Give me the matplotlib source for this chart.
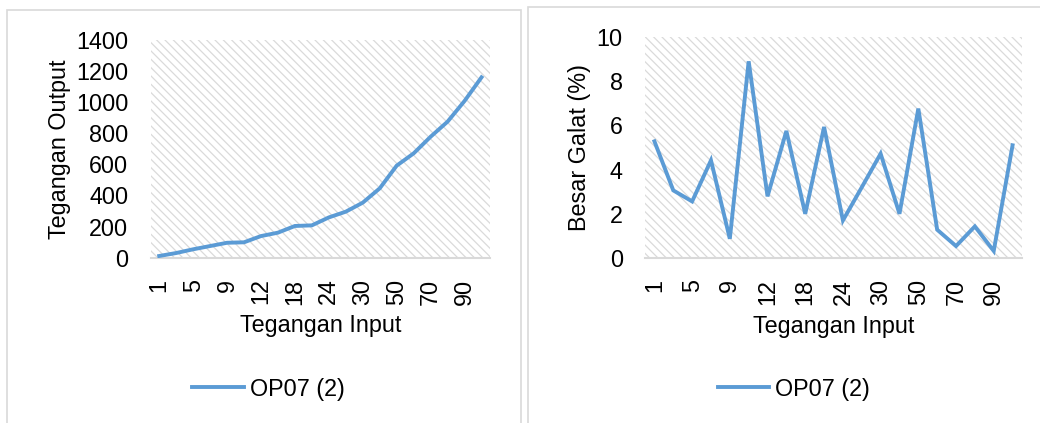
import numpy as np
import matplotlib
matplotlib.use('Agg')
import matplotlib.pyplot as plt
from matplotlib.patches import Rectangle

plt.rcParams['font.family'] = ['Liberation Sans', 'DejaVu Sans']
plt.rcParams['hatch.color'] = '#dadada'
plt.rcParams['hatch.linewidth'] = 0.9

# input voltages (categories)
teganganInput = ['1', '3', '5', '7', '9', '10', '12', '15', '18', '21',
                 '24', '27', '30', '40', '50', '60', '70', '80', '90', '100']
# output voltage, OP07 (2)
teganganOutput = [11, 30, 54, 75, 96, 99, 139, 161, 204, 208,
                  259, 296, 354, 446, 592, 671, 778, 875, 1008, 1160]
# error in percent, OP07 (2)
besarGalat = [5.28, 3.06, 2.56, 4.42, 0.87, 8.9, 2.79, 5.75, 2.0, 5.93,
              1.70, 3.2, 4.72, 2.0, 6.76, 1.28, 0.54, 1.43, 0.32, 5.1]
seriesName = 'OP07 (2)'

lineColor = '#5B9BD5'
fs = 16.8
W, H = 1040, 423

fig = plt.figure(figsize=(W / 100, H / 100), dpi=100)

# chart frames
fig.patches.append(Rectangle((7 / W, -0.1), (520.5 - 7) / W, 1.1 - 10 / H,
                             transform=fig.transFigure, fill=False,
                             edgecolor='#d9d9d9', lw=1.2))
fig.patches.append(Rectangle((528 / W, -0.1), 0.6, 1.1 - 7 / H,
                             transform=fig.transFigure, fill=False,
                             edgecolor='#d9d9d9', lw=1.2))


def make_axes(rect, values, ymax, ystep, ylabel, legendCenter):
    ax = fig.add_axes(rect)
    x = np.arange(len(teganganInput))
    ax.add_patch(Rectangle((0, 0), 1, 1, transform=ax.transAxes, facecolor='white',
                           hatch='\\\\\\\\', edgecolor='#dadada', lw=0, zorder=0))
    line, = ax.plot(x, values, color=lineColor, lw=2.8, solid_joinstyle='miter',
                    label=seriesName, zorder=3)
    ax.set_xlim(-0.5, len(teganganInput) - 0.5)
    ax.set_ylim(0, ymax)
    ax.set_yticks(np.arange(0, ymax + ystep / 2, ystep))
    ax.set_xticks(x[::2])
    ax.set_xticklabels(teganganInput[::2], rotation=90, fontsize=fs)
    ax.tick_params(axis='y', labelsize=fs, length=0, pad=16)
    ax.tick_params(axis='x', length=0, pad=15)
    for s in ['top', 'right', 'left']:
        ax.spines[s].set_visible(False)
    ax.spines['bottom'].set_color('#d9d9d9')
    ax.spines['bottom'].set_linewidth(1.5)
    ax.set_xlabel('Tegangan Input', fontsize=fs, labelpad=7)
    ax.set_ylabel(ylabel, fontsize=fs, labelpad=4)
    fig.legend(handles=[line], loc='center', bbox_to_anchor=legendCenter,
               bbox_transform=fig.transFigure, frameon=False, fontsize=fs,
               handlelength=2.2, handletextpad=0.25)
    return ax


ax0 = make_axes([150.7 / W, 1 - 257.7 / H, 339.3 / W, 217.7 / H],
                teganganOutput, 1400, 200, 'Tegangan Output',
                (268.5 / W, 1 - 389 / H))
ax1 = make_axes([645 / W, 1 - 258 / H, 377 / W, 221 / H],
                besarGalat, 10, 2, 'Besar Galat (%)',
                (794 / W, 1 - 389 / H))

plt.savefig('out.png', dpi=100)
